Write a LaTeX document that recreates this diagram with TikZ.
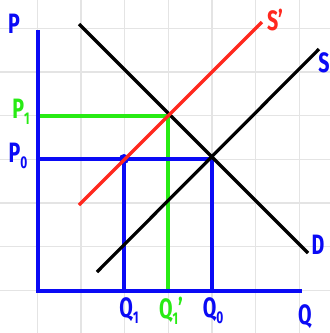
\documentclass[tikz,border=0pt]{standalone}
\usepackage{fontspec}
\setmainfont{Fira Sans}
\definecolor{gridc}{RGB}{228,228,228}
\definecolor{axb}{RGB}{10,10,245}
\definecolor{lg}{RGB}{40,235,20}
\definecolor{rd}{RGB}{255,40,30}
\newcommand{\lbl}[2]{#1{\fontsize{17}{17}\selectfont\raisebox{-6pt}{#2}}}
\begin{document}
\begin{tikzpicture}[x=1pt,y=-1pt,
  gridline/.style={gridc,line width=1.4pt},
  curve/.style={line width=3.2pt},
  axisline/.style={axb,line width=3.4pt},
  lab/.style={inner sep=0pt,font=\fontsize{28}{28}\selectfont\bfseries,xscale=0.7}]
\useasboundingbox (0,0) rectangle (330,333);
\fill[white] (0,0) rectangle (330,333);
% grid
\foreach \g in {37.3,81,124.6,168.3,212,255.6,299.3}{
  \draw[gridline] (\g,0) -- (\g,333);}
\foreach \g in {28.3,72,115.6,159.3,203,246.6,290.3}{
  \draw[gridline] (0,\g) -- (330,\g);}
% key points
\coordinate (O) at (38,291);
\coordinate (ytop) at (38,30);
\coordinate (xend) at (302,291);
\coordinate (p1) at (38,116);
\coordinate (p0) at (38,159);
\coordinate (E1) at (168,116);
\coordinate (E0) at (212,159);
\coordinate (A) at (124,159);
\coordinate (q1) at (124,291);
\coordinate (q1p) at (168,291);
\coordinate (q0) at (212,291);
\coordinate (Da) at (79,24);
\coordinate (Db) at (308,253);
\coordinate (Sa) at (97,272);
\coordinate (Sb) at (319,49);
\coordinate (Ra) at (79,205);
\coordinate (Rb) at (262,22);
% projection lines
\draw[lg,curve] (p1) -- (E1) -- (q1p);
\draw[axb,curve] (p0) -- (E0) -- (q0);
\draw[axb,curve] (A) -- (q1);
% curves
\draw[black,curve] (Da) -- (Db);
\draw[black,curve] (Sa) -- (Sb);
\fill[axb] (A) circle (5pt);
\draw[rd,curve] (Ra) -- (Rb);
% axes
\draw[axisline] (ytop) -- (O) -- (xend);
% labels
\node[lab,axb] (P) at (14,24) {P};
\node[lab,lg] (P1) at (21,112) {\lbl{P}{1}};
\node[lab,axb] (P0) at (18,156) {\lbl{P}{0}};
\node[lab,rd] (Sp) at (275,20) {S’};
\node[lab,axb] (S) at (324,63) {S};
\node[lab,axb] (D) at (318,245) {D};
\node[lab,axb] (Q) at (305,317) {Q};
\node[lab,axb] (Q1) at (129,311) {\lbl{Q}{1}};
\node[lab,lg] (Q1p) at (171,311) {\lbl{Q}{1}’};
\node[lab,axb] (Q0) at (213,311) {\lbl{Q}{0}};
\end{tikzpicture}
\end{document}
